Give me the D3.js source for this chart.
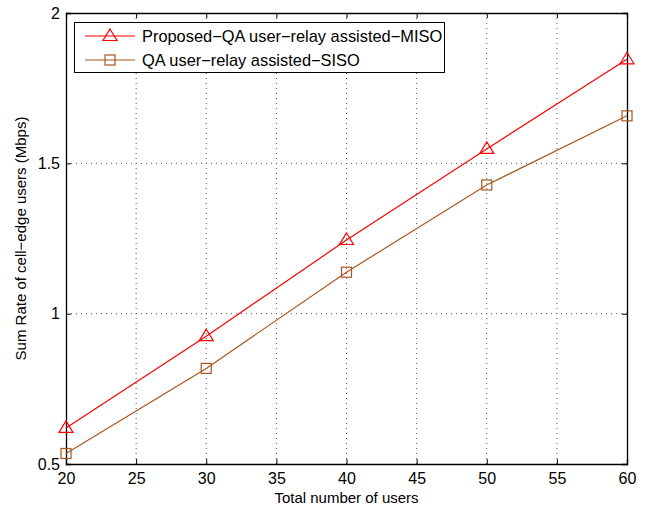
<!DOCTYPE html>
<html><head><meta charset="utf-8">
<script src="https://cdn.jsdelivr.net/npm/d3@7"></script>
<style>body{margin:0;background:#fff}svg{display:block}text{font-family:"Liberation Sans",Arial,sans-serif;fill:#000}</style>
</head><body>
<script>
const users = [20, 30, 40, 50, 60];
const misoRate = [0.62, 0.925, 1.245, 1.548, 1.846];
const sisoRate = [0.535, 0.818, 1.138, 1.428, 1.658];
const xTicks = [20, 25, 30, 35, 40, 45, 50, 55, 60];
const yTicks = [0.5, 1, 1.5, 2];
const seriesNames = ["Proposed\u2212QA user\u2212relay assisted\u2212MISO", "QA user\u2212relay assisted\u2212SISO"];

const W = 645, H = 509;
const m = {l: 66, r: 18, t: 13, b: 45};
const svg = d3.select("body").append("svg").attr("width", W).attr("height", H);
const x = d3.scaleLinear().domain([20, 60]).range([m.l, W - m.r]);
const y = d3.scaleLinear().domain([0.5, 2]).range([H - m.b, m.t]);
const x0 = m.l, x1 = W - m.r, y0 = H - m.b, y1 = m.t;

// grid
const g = svg.append("g");
g.selectAll(".gx").data(xTicks.slice(1, -1)).enter().append("line")
  .attr("x1", d => x(d)).attr("x2", d => x(d)).attr("y1", y0).attr("y2", y1)
  .attr("stroke", "#555").attr("stroke-width", 1).attr("stroke-dasharray", "1,4");
g.selectAll(".gy").data(yTicks.slice(1, -1)).enter().append("line")
  .attr("y1", d => y(d)).attr("y2", d => y(d)).attr("x1", x0).attr("x2", x1)
  .attr("stroke", "#555").attr("stroke-width", 1).attr("stroke-dasharray", "1,4");

// axes
const tl = 5;
svg.append("g").attr("transform", `translate(0,${y0})`)
  .call(d3.axisBottom(x).tickValues(xTicks).tickSize(-tl).tickPadding(9).tickFormat(d3.format("d")));
svg.append("g").attr("transform", `translate(0,${y1})`)
  .call(d3.axisTop(x).tickValues(xTicks).tickSize(-tl).tickFormat(""));
svg.append("g").attr("transform", `translate(${x0},0)`)
  .call(d3.axisLeft(y).tickValues(yTicks).tickSize(-tl).tickPadding(6).tickFormat(d => d3.format("")(d)));
svg.append("g").attr("transform", `translate(${x1},0)`)
  .call(d3.axisRight(y).tickValues(yTicks).tickSize(-tl).tickFormat(""));
svg.selectAll(".domain").attr("stroke", "#000").attr("stroke-width", 1.3);
svg.selectAll(".tick line").attr("stroke", "#000");
svg.selectAll(".tick text").attr("font-size", 16).attr("font-family", "Liberation Sans, Arial, sans-serif");

// labels
svg.append("text").attr("x", (x0 + x1) / 2).attr("y", 503).attr("text-anchor", "middle")
  .attr("font-size", 15).text("Total number of users");
svg.append("text").attr("transform", `translate(26,${(y0 + y1) / 2}) rotate(-90)`).attr("text-anchor", "middle")
  .attr("font-size", 15).text("Sum Rate of cell\u2212edge users (Mbps)");

const colors = ["#ff0000", "#a8561f"];
const datasets = [misoRate, sisoRate];
const line = d3.line().x((d, i) => x(users[i])).y(d => y(d));

function marker(sel, k, cx, cy) {
  if (k === 0) {
    sel.append("path").attr("d", `M${cx},${cy - 7}L${cx + 7},${cy + 4.5}L${cx - 7},${cy + 4.5}Z`)
      .attr("fill", "none").attr("stroke", colors[k]).attr("stroke-width", 1.2);
  } else {
    sel.append("rect").attr("x", cx - 5).attr("y", cy - 5).attr("width", 10).attr("height", 10)
      .attr("fill", "none").attr("stroke", colors[k]).attr("stroke-width", 1.2);
  }
}

datasets.forEach((data, k) => {
  svg.append("path").datum(data).attr("d", line).attr("fill", "none")
    .attr("stroke", colors[k]).attr("stroke-width", 1.2);
  const mg = svg.append("g");
  data.forEach((d, i) => marker(mg, k, x(users[i]), y(d)));
});

// legend
const lg = svg.append("g");
lg.append("rect").attr("x", 74.5).attr("y", 22.5).attr("width", 370).attr("height", 50)
  .attr("fill", "#fff").attr("stroke", "#000").attr("stroke-width", 1);
seriesNames.forEach((name, k) => {
  const ly = 36 + k * 24;
  lg.append("line").attr("x1", 85).attr("x2", 135).attr("y1", ly).attr("y2", ly)
    .attr("stroke", colors[k]).attr("stroke-width", 1.2);
  marker(lg, k, 110, ly);
  lg.append("text").attr("x", 142).attr("y", ly + 6).attr("font-size", 16.4).text(name);
});
</script>
</body></html>
